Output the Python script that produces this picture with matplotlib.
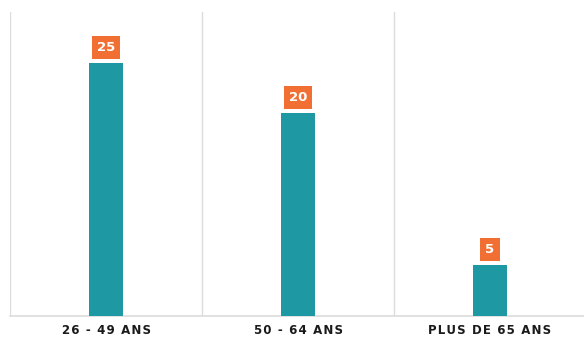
import numpy as np
import matplotlib.pyplot as plt

categories = ["26 - 49 ANS", "50 - 64 ANS", "PLUS DE 65 ANS"]
values = [25, 20, 5]

TEAL = "#1E98A2"
ORANGE = "#F26F33"
GRID = "#DCDCDC"


def tracked(s):
    # espacement des lettres imite avec des espaces fines
    return "\u200a".join(s)


fig = plt.figure(figsize=(5.84, 3.38), dpi=100)
ax = fig.add_axes([10 / 584, 22 / 338, 576 / 584, 304 / 338])

x = np.arange(len(categories))
bars = ax.bar(x, values, width=0.18, color=TEAL, zorder=3)

ax.set_xlim(-0.5, len(categories) - 0.5)
ax.set_ylim(0, 30)

# separateurs verticaux entre les categories
for b in np.arange(-0.5, len(categories), 1.0):
    ax.axvline(b, color=GRID, lw=1, zorder=1)

for spine in ["top", "right", "left"]:
    ax.spines[spine].set_visible(False)
ax.spines["bottom"].set_color(GRID)
ax.spines["bottom"].set_linewidth(1.2)

ax.set_yticks([])
ax.set_xticks(x)
ax.set_xticklabels([tracked(c) for c in categories], fontsize=8.5, fontweight="bold",
                   color="#1a1a1a", fontfamily="DejaVu Sans")
ax.tick_params(axis="x", length=0, pad=6)

for rect, v in zip(bars, values):
    ax.annotate(str(v), (rect.get_x() + rect.get_width() / 2, rect.get_height()),
                xytext=(0, 6.5), textcoords="offset points", ha="center", va="bottom",
                fontsize=9.5, fontweight="bold", color="white",
                bbox=dict(boxstyle="square,pad=0.38", fc=ORANGE, ec="none"),
                zorder=4)

fig.savefig("out.png", dpi=100)
